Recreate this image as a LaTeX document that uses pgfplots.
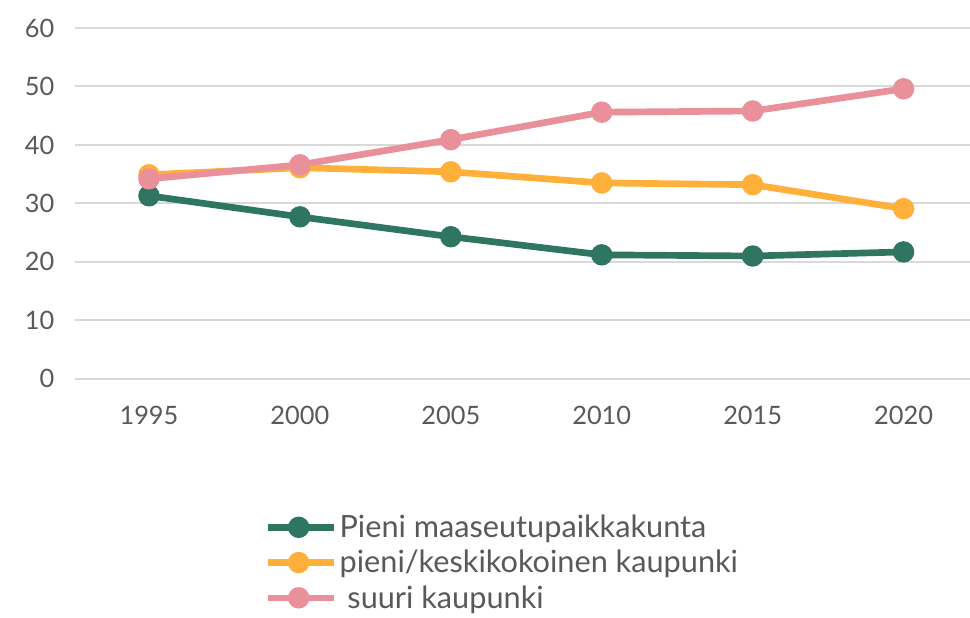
\documentclass[border=0pt]{standalone}
\usepackage{fontspec}
\setmainfont{Lato}
\usepackage{pgfplots}
\pgfplotsset{compat=1.18}
\definecolor{cgreen}{HTML}{2E7562}
\definecolor{corange}{HTML}{FFB03B}
\definecolor{cpink}{HTML}{E9909B}
\definecolor{ctext}{HTML}{595959}
\definecolor{cgrid}{HTML}{D9D9D9}
\begin{document}
\begin{tikzpicture}
\begin{axis}[
    scale only axis,
    width=671pt,
    height=263pt,
    xmin=1992.55, xmax=2022.2,
    ymin=0, ymax=60,
    ytick={0,10,...,60},
    xtick={1995,2000,...,2020},
    axis line style={draw=none},
    major tick length=0pt,
    ymajorgrids,
    grid style={cgrid, line width=1.5pt},
    tick label style={font=\fontsize{19}{22}\selectfont, text=ctext},
    /pgf/number format/assume math mode=true,
    /pgf/number format/1000 sep={},
    xticklabel style={yshift=-17pt},
    yticklabel style={xshift=-12pt},
    clip=false,
    legend cell align=left,
    legend style={at={(0.212,-0.38)}, anchor=north west, draw=none,
        font=\fontsize{23}{26}\selectfont, text=ctext, row sep=4pt,
        inner sep=0pt,
        nodes={inner xsep=2pt}},
    legend image code/.code={
        \draw[#1, mark=none] (0cm,0cm) -- (1.72cm,0cm);
        \draw[#1, only marks] plot coordinates {(0.8cm,0cm)};
    },
]
\addplot[cgreen, line width=5pt, mark=*, mark size=5.5pt] coordinates {
(1995,31.3) (2000,27.7) (2005,24.3) (2010,21.2) (2015,21.0) (2020,21.7)};
\addlegendentry{Pieni maaseutupaikkakunta}
\addplot[corange, line width=5pt, mark=*, mark size=5.5pt] coordinates {
(1995,34.9) (2000,36.1) (2005,35.4) (2010,33.5) (2015,33.2) (2020,29.1)};
\addlegendentry{pieni/keskikokoinen kaupunki}
\addplot[cpink, line width=5pt, mark=*, mark size=5.5pt] coordinates {
(1995,34.2) (2000,36.6) (2005,40.9) (2010,45.6) (2015,45.8) (2020,49.6)};
\addlegendentry{\ suuri kaupunki}
\coordinate (bbl) at (rel axis cs:-0.0838,-0.681);
\coordinate (btr) at (rel axis cs:1.0,1.0798);
\end{axis}
\pgfresetboundingbox
\path[use as bounding box] (bbl) rectangle (btr);
\end{tikzpicture}
\end{document}
